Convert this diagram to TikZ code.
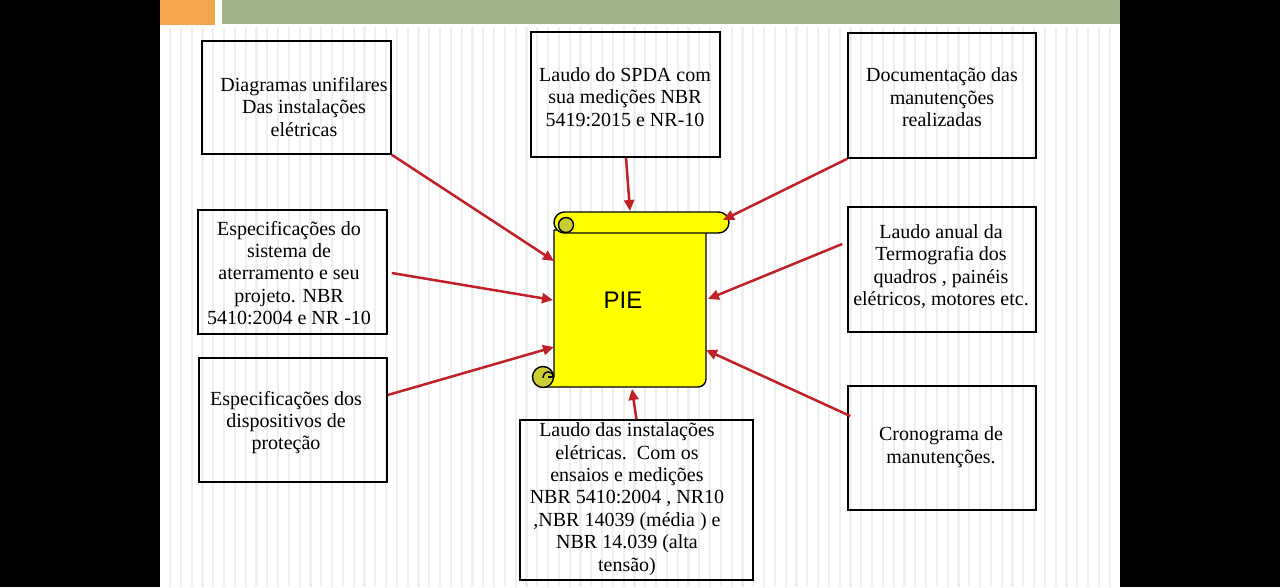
\documentclass[tikz,border=0pt]{standalone}
\usepackage{fontspec}
\setmainfont{Liberation Serif}
\newfontfamily\piefont{Liberation Sans}
\usetikzlibrary{arrows.meta}
\definecolor{bargreen}{RGB}{160,180,141}
\definecolor{barorange}{RGB}{244,166,76}
\definecolor{stripegray}{RGB}{239,239,239}
\definecolor{arrred}{RGB}{192,32,40}
\definecolor{curlolive}{RGB}{204,204,51}
\definecolor{scrollyellow}{RGB}{255,255,0}
\begin{document}
\begin{tikzpicture}[x=1pt,y=-1pt,
  boxnode/.style={draw=black,line width=1.6pt,inner sep=0pt},
  txt/.style={align=center,inner sep=0pt,font=\fontsize{20}{22.4}\selectfont},
  arr/.style={draw=arrred,line width=2.5pt,-{Triangle[length=11pt,width=10pt]}},
  outl/.style={draw=black,line width=1.4pt,line join=round}]
\useasboundingbox (0,0) rectangle (1280,587);
% background
\fill[black] (0,0) rectangle (1280,587);
\fill[white] (160,0) rectangle (1120,587);
\foreach \i in {0,...,87} \fill[stripegray] ({169+10.8*\i},27) rectangle ++(2.2,560);
\fill[barorange] (160,0) rectangle (215,25);
\fill[bargreen] (222,0) rectangle (1120,24);
% boxes
\node[boxnode,minimum width=189pt,minimum height=113pt] (A) at (296.5,97.5) {};
\node[boxnode,minimum width=189pt,minimum height=125pt] (B) at (625.5,94.5) {};
\node[boxnode,minimum width=188pt,minimum height=125pt] (C) at (942,95.5) {};
\node[boxnode,minimum width=189pt,minimum height=124pt] (D) at (292.5,272) {};
\node[boxnode,minimum width=188pt,minimum height=125pt] (E) at (942,269.5) {};
\node[boxnode,minimum width=188pt,minimum height=124pt] (F) at (293,420) {};
\node[boxnode,minimum width=233pt,minimum height=160pt] (G) at (636.5,500) {};
\node[boxnode,minimum width=188pt,minimum height=124pt] (H) at (942,448) {};
% texts
\node[txt] (tA) at (304,107) {Diagramas unifilares\\Das instalações\\elétricas};
\node[txt] (tB) at (625,97) {Laudo do SPDA com\\sua medições NBR\\5419:2015 e NR-10};
\node[txt] (tC) at (942,97.5) {Documentação das\\manutenções\\realizadas};
\node[txt] (tD) at (289,273) {Especificações do\\sistema de\\aterramento e seu\\projeto. NBR\\5410:2004 e NR -10};
\node[txt] (tE) at (941,266.5) {Laudo anual da\\Termografia dos\\quadros , painéis\\elétricos, motores etc.};
\node[txt] (tF) at (286,422.5) {Especificações dos\\dispositivos de\\proteção};
\node[txt] (tG) at (627,499) {Laudo das instalações\\elétricas.\ \ Com os\\ensaios e medições\\NBR 5410:2004 , NR10\\,NBR 14039 (média ) e\\NBR 14.039 (alta\\tensão)};
\node[txt] (tH) at (941,447) {Cronograma de\\manutenções.};
% scroll
\path[fill=scrollyellow,outl] (554,230) -- (554,377) -- (543,377) -- (543,387) -- (640,387)
  [rounded corners=8pt] -- (706,387) -- (706,300) [sharp corners] -- (706,230) -- cycle;
\path[fill=curlolive,outl] (543,377) circle[radius=10.5];
\begin{scope}
  \clip (535,360) rectangle (560,377);
  \path[outl] (548.25,377) circle[radius=5.25];
\end{scope}
\path[outl] (548.25,377) -- (554,377);
\path[fill=scrollyellow,outl,rounded corners=10.5pt] (554,212) rectangle (729,233);
\path[fill=curlolive,outl] (566,225) circle[radius=7.5];
\node[font=\piefont\fontsize{24}{28}\selectfont,inner sep=0pt] (pie) at (623,300) {PIE};
% arrow targets
\coordinate (eA) at (554,261);
\coordinate (eB) at (630,211);
\coordinate (eC) at (723,220);
\coordinate (eD) at (553,300);
\coordinate (eE) at (708,299);
\coordinate (eF) at (554,347);
\coordinate (eG) at (632,389);
\coordinate (eH) at (706,350);
% arrows
\draw[arr] (A.south east) -- (eA);
\draw[arr] ([xshift=0.5pt]B.south) -- (eB);
\draw[arr] (C.south west) -- (eC);
\draw[arr] ([xshift=4pt,yshift=-1pt]D.east) -- (eD);
\draw[arr] ([xshift=-5pt,yshift=25.5pt]E.west) -- (eE);
\draw[arr] ([yshift=25pt]F.east) -- (eF);
\draw[arr] (G.north) -- (eG);
\draw[arr] ([xshift=3pt,yshift=32pt]H.west) -- (eH);
\end{tikzpicture}
\end{document}
